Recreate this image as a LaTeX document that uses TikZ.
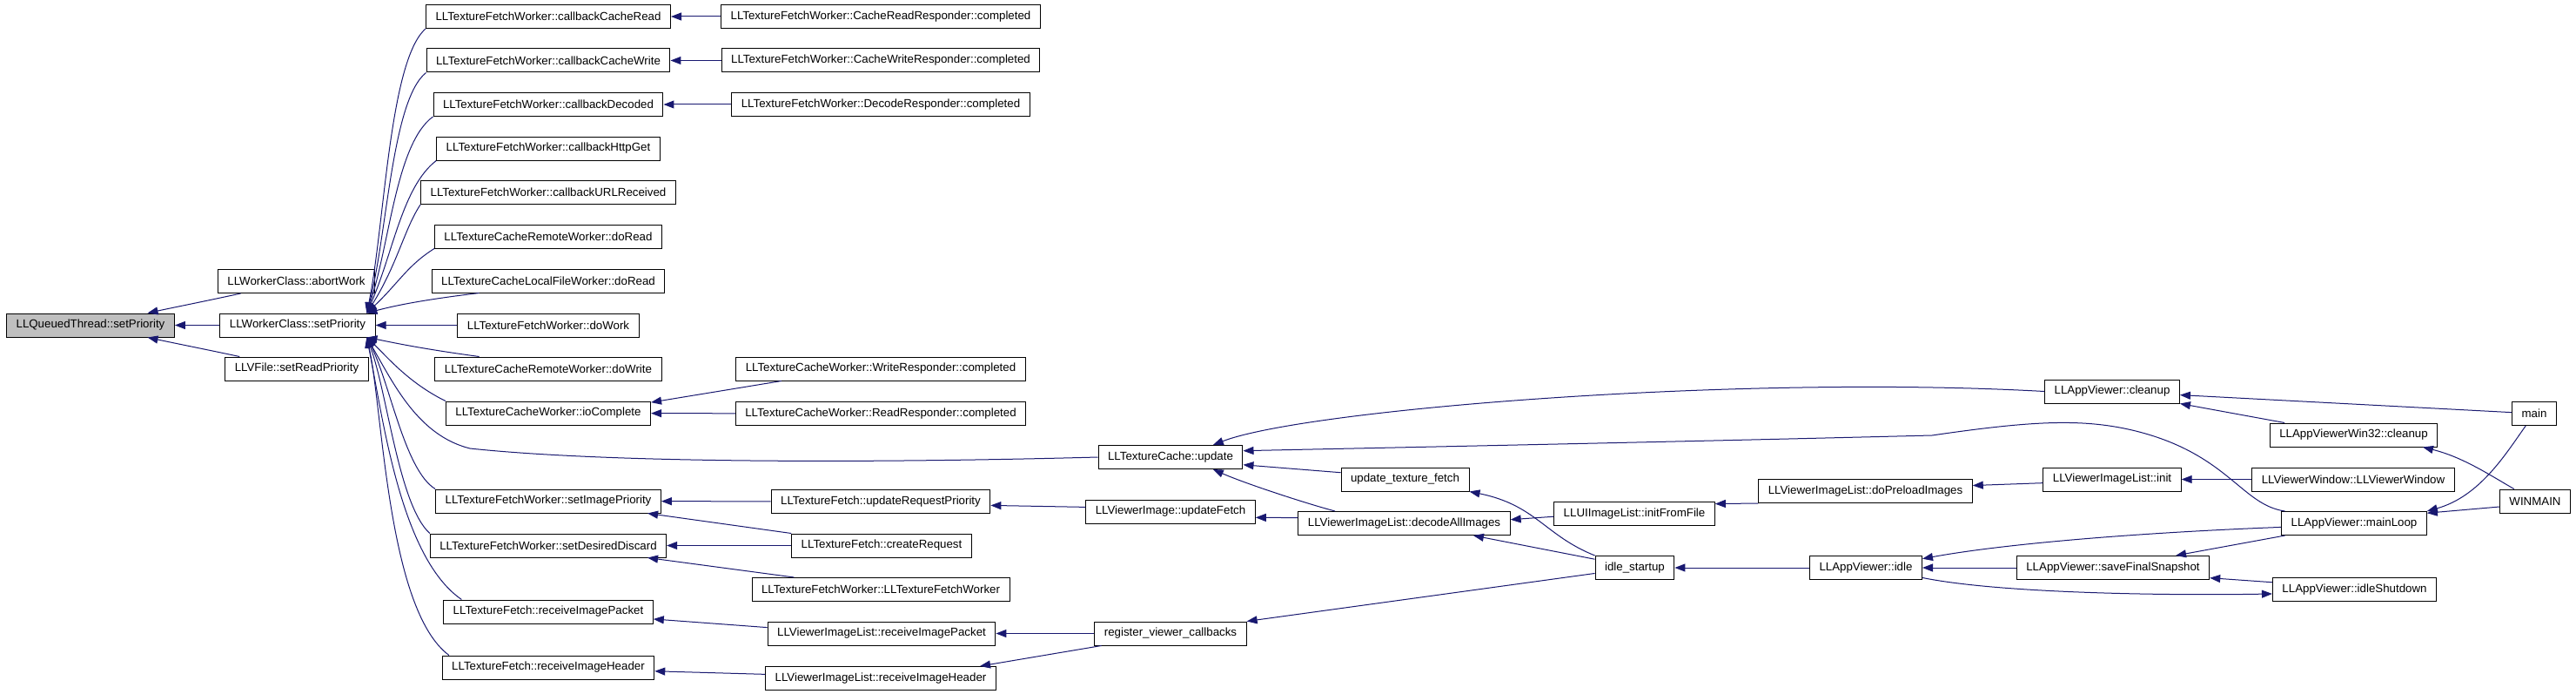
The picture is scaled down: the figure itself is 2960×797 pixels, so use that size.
\documentclass[tikz,border=0pt]{standalone}
\usepackage{fontspec}
\setmainfont{Liberation Sans}
\usetikzlibrary{arrows.meta}
\definecolor{edgeblue}{HTML}{191970}
\definecolor{rootgray}{HTML}{BFBFBF}

\begin{document}
\begin{tikzpicture}[x=1pt, y=-1pt,
  fn/.style={draw=black, line width=1pt, minimum height=27pt, inner xsep=11pt, inner ysep=0pt,
    font=\fontsize{13.3}{15}\selectfont},
  call/.style={draw=edgeblue, line width=1pt, -{Triangle[length=12pt,width=9pt]}}]
\useasboundingbox[fill=white] (0,0) rectangle (2960,797);

\node[fn, fill=rootgray] (qt) at (104,373.5) {LLQueuedThread::setPriority};
\node[fn] (wcAbort) at (340.5,323) {LLWorkerClass::abortWork};
\node[fn] (wcSet) at (342,373.5) {LLWorkerClass::setPriority};
\node[fn] (vfRead) at (341,423.5) {LLVFile::setReadPriority};

\node[fn] (cbRead) at (630,19) {LLTextureFetchWorker::callbackCacheRead};
\node[fn] (cbWrite) at (630,69.5) {LLTextureFetchWorker::callbackCacheWrite};
\node[fn] (cbDecoded) at (630,120) {LLTextureFetchWorker::callbackDecoded};
\node[fn] (cbHttp) at (630,170.5) {LLTextureFetchWorker::callbackHttpGet};
\node[fn] (cbURL) at (630,221) {LLTextureFetchWorker::callbackURLReceived};
\node[fn] (remRead) at (630,271.5) {LLTextureCacheRemoteWorker::doRead};
\node[fn] (locRead) at (630,322.5) {LLTextureCacheLocalFileWorker::doRead};
\node[fn] (doWork) at (630,373.5) {LLTextureFetchWorker::doWork};
\node[fn] (remWrite) at (630,423.5) {LLTextureCacheRemoteWorker::doWrite};
\node[fn] (ioDone) at (630,474.5) {LLTextureCacheWorker::ioComplete};
\node[fn] (setImgPri) at (630,575.5) {LLTextureFetchWorker::setImagePriority};
\node[fn] (setDiscard) at (630,626.5) {LLTextureFetchWorker::setDesiredDiscard};
\node[fn] (tfPacket) at (630,702.5) {LLTextureFetch::receiveImagePacket};
\node[fn] (tfHeader) at (630,766.5) {LLTextureFetch::receiveImageHeader};

\node[fn] (readResp) at (1012,19) {LLTextureFetchWorker::CacheReadResponder::completed};
\node[fn] (writeResp) at (1012,69.5) {LLTextureFetchWorker::CacheWriteResponder::completed};
\node[fn] (decodeResp) at (1012,120) {LLTextureFetchWorker::DecodeResponder::completed};
\node[fn] (cwWriteResp) at (1012,423.5) {LLTextureCacheWorker::WriteResponder::completed};
\node[fn] (cwReadResp) at (1012,475) {LLTextureCacheWorker::ReadResponder::completed};
\node[fn] (updReqPri) at (1012,576) {LLTextureFetch::updateRequestPriority};
\node[fn] (createReq) at (1013,626.5) {LLTextureFetch::createRequest};
\node[fn] (tfwCtor) at (1012,677) {LLTextureFetchWorker::LLTextureFetchWorker};
\node[fn] (vilPacket) at (1013,727.5) {LLViewerImageList::receiveImagePacket};
\node[fn] (vilHeader) at (1012,779) {LLViewerImageList::receiveImageHeader};

\node[fn] (tcUpdate) at (1345,525) {LLTextureCache::update};
\node[fn] (updFetch) at (1345,587.5) {LLViewerImage::updateFetch};
\node[fn] (regCb) at (1345,727.5) {register\_viewer\_callbacks};

\node[fn] (updTexFetch) at (1614.5,550.5) {update\_texture\_fetch};
\node[fn] (decodeAll) at (1613.5,601) {LLViewerImageList::decodeAllImages};
\node[fn] (initFile) at (1878,590) {LLUIImageList::initFromFile};
\node[fn] (idleStart) at (1878.5,652) {idle\_startup};
\node[fn] (preload) at (2143.5,564) {LLViewerImageList::doPreloadImages};
\node[fn] (appIdle) at (2144,652) {LLAppViewer::idle};

\node[fn] (appCleanup) at (2427,449.5) {LLAppViewer::cleanup};
\node[fn] (vilInit) at (2427,550.5) {LLViewerImageList::init};
\node[fn] (saveSnap) at (2428,652) {LLAppViewer::saveFinalSnapshot};
\node[fn] (win32Cleanup) at (2704.5,499.5) {LLAppViewerWin32::cleanup};
\node[fn] (viewerWin) at (2704,550.5) {LLViewerWindow::LLViewerWindow};
\node[fn] (mainLoop) at (2705,601) {LLAppViewer::mainLoop};
\node[fn] (idleShut) at (2705.5,677) {LLAppViewer::idleShutdown};
\node[fn] (main) at (2912,475) {main};
\node[fn] (winMain) at (2913,575.5) {WINMAIN};

\draw[call] (wcAbort) .. controls (240,345) and (200,353) .. (qt);
\draw[call] (wcSet) -- (qt);
\draw[call] (vfRead) .. controls (240,402) and (200,394) .. (qt);

\draw[call] (cbRead.south west) .. controls (447,70) and (442,260) .. (wcSet.10);
\draw[call] (cbWrite.south west) .. controls (450,115) and (445,270) .. (wcSet.10);
\draw[call] (cbDecoded.south west) .. controls (455,165) and (448,280) .. (wcSet.10);
\draw[call] (cbHttp.south west) .. controls (462,215) and (452,290) .. (wcSet.10);
\draw[call] (cbURL.south west) .. controls (465,262) and (456,305) .. (wcSet.10);
\draw[call] (remRead.south west) .. controls (468,305) and (458,325) .. (wcSet.10);
\draw[call] (locRead.190) .. controls (480,345) and (450,352) .. (wcSet.10);
\draw[call] (doWork) -- (wcSet);
\draw[call] (remWrite.170) .. controls (480,400) and (445,392) .. (wcSet.350);
\draw[call] (ioDone.north west) .. controls (470,440) and (445,410) .. (wcSet.350);
\draw[call] (tcUpdate.west) .. controls (1000,532) and (700,532) .. (540,515)
  .. controls (480,500) and (452,440) .. (wcSet.350);
\draw[call] (setImgPri.north west) .. controls (465,540) and (448,440) .. (wcSet.350);
\draw[call] (setDiscard.north west) .. controls (458,580) and (445,450) .. (wcSet.350);
\draw[call] (tfPacket.172) .. controls (460,640) and (440,480) .. (wcSet.350);
\draw[call] (tfHeader.173) .. controls (445,700) and (440,470) .. (wcSet.350);

\draw[call] (readResp) -- (cbRead);
\draw[call] (writeResp) -- (cbWrite);
\draw[call] (decodeResp) -- (cbDecoded);
\draw[call] (cwWriteResp.187) -- (ioDone.6);
\draw[call] (cwReadResp) -- (ioDone);
\draw[call] (updReqPri) -- (setImgPri);
\draw[call] (createReq.north west) -- (setImgPri.353);
\draw[call] (createReq) -- (setDiscard);
\draw[call] (tfwCtor.172) -- (setDiscard.353);
\draw[call] (vilPacket.177) -- (tfPacket.356);
\draw[call] (vilHeader.178) -- (tfHeader.358);

\draw[call] (updFetch.177) -- (updReqPri.358);
\draw[call] (regCb) -- (vilPacket);
\draw[call] (regCb.190) -- (vilHeader.7);

\draw[call] (appCleanup.west) .. controls (2000,430) and (1500,470) .. (tcUpdate.16);
\draw[call] (mainLoop.170) .. controls (2575,580) and (2560,520) .. (2450,494)
  .. controls (2390,480) and (2330,484) .. (2220,500)
  .. controls (1900,508) and (1600,514) .. (tcUpdate.5);
\draw[call] (updTexFetch.174) -- (tcUpdate.354);
\draw[call] (decodeAll.170) .. controls (1500,578) and (1430,555) .. (tcUpdate.344);

\draw[call] (decodeAll.177) -- (updFetch.356);
\draw[call] (idleStart.north west) .. controls (1775,615) and (1765,580) .. (updTexFetch.south east);
\draw[call] (idleStart.168) -- (decodeAll.350);
\draw[call] (idleStart.188) -- (regCb.north east);
\draw[call] (initFile.182) -- (decodeAll.2);
\draw[call] (preload.south west) -- (initFile.7);
\draw[call] (vilInit.183) -- (preload.3);
\draw[call] (viewerWin) -- (vilInit);
\draw[call] (appIdle) -- (idleStart);
\draw[call] (mainLoop.183) .. controls (2450,612) and (2300,625) .. (appIdle.9);
\draw[call] (mainLoop.190) -- (saveSnap.11);
\draw[call] (saveSnap) -- (appIdle);
\draw[call] (idleShut.175) -- (saveSnap.354);
\draw[call] (appIdle.350) .. controls (2300,682) and (2500,684) .. (idleShut.183);
\draw[call] (winMain.189) -- (mainLoop.8);
\draw[call] (main.235) .. controls (2880,520) and (2850,570) .. (mainLoop.north east);
\draw[call] (main) -- (appCleanup.357);
\draw[call] (win32Cleanup.170) -- (appCleanup.south east);
\draw[call] (winMain.150) .. controls (2860,545) and (2830,525) .. (win32Cleanup.350);
\end{tikzpicture}
\end{document}
